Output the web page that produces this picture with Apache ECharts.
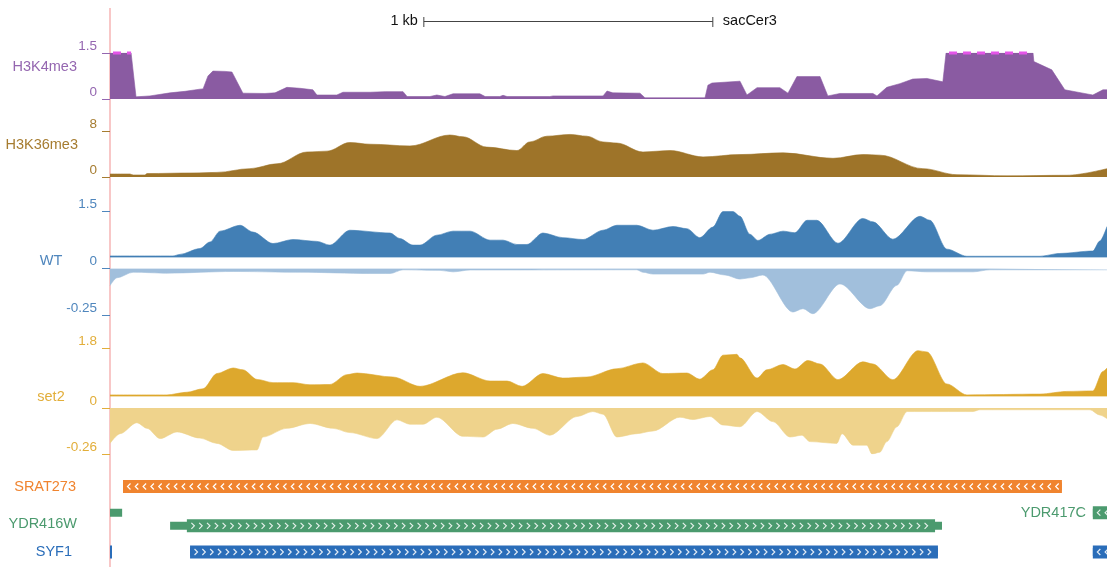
<!DOCTYPE html>
<html>
<head>
<meta charset="utf-8">
<script src="https://cdn.jsdelivr.net/npm/echarts@6/dist/echarts.min.js"></script>
<style>
  html, body { margin: 0; padding: 0; background: #fff; }
  #main { width: 1107px; height: 567px; }
</style>
</head>
<body>
<div id="main"></div>
<script>
// region length in bp (relative to left edge of the view)
const viewStart = 0
const viewEnd = 3450
const scaleBar = [1086, 2086] // 1 kb

// signal tracks: [position bp, value]
const h3k4me3 = [
  [0, 1.5], [73, 1.5], [90, 0.07], [93, 0.07], [138, 0.1], [208, 0.2], [260, 0.25], [311, 0.32],
  [322, 0.33], [339, 0.75], [356, 0.91], [398, 0.9], [422, 0.88], [443, 0.5], [460, 0.19],
  [536, 0.18], [571, 0.2], [612, 0.38], [657, 0.35], [702, 0.3], [716, 0.13], [785, 0.13],
  [806, 0.22], [900, 0.22], [952, 0.24], [1014, 0.24], [1028, 0.08], [1107, 0.08], [1131, 0.13],
  [1159, 0.08], [1187, 0.17], [1280, 0.17], [1298, 0.08], [1349, 0.08], [1360, 0.12], [1374, 0.08],
  [1522, 0.08], [1533, 0.1], [1706, 0.1], [1720, 0.26], [1740, 0.2], [1834, 0.19], [1851, 0.04],
  [2059, 0.04], [2069, 0.45], [2083, 0.52], [2180, 0.58], [2204, 0.13], [2239, 0.37], [2318, 0.37],
  [2346, 0.19], [2377, 0.73], [2457, 0.73], [2484, 0.1], [2526, 0.18], [2640, 0.18], [2654, 0.1],
  [2688, 0.38], [2733, 0.5], [2778, 0.65], [2827, 0.67], [2882, 0.56], [2893, 1.5], [3194, 1.5],
  [3197, 1.22], [3259, 0.95], [3304, 0.3], [3367, 0.19], [3401, 0.13], [3436, 0.3], [3450, 0.3]
]
// stretches where H3K4me3 is above the view limit
const h3k4me3Clipped = [[0, 1.5], [73, 1.5], null, [2893, 1.5], [3194, 1.5]]

const h3k36me3 = [
  [0, 0.52], [69, 0.52], [80, 0.35], [121, 0.35], [128, 0.6], [287, 0.7], [370, 0.8], [484, 1.45],
  [578, 2.3], [682, 4.35], [751, 4.5], [830, 6.0], [900, 5.7], [1038, 5.4], [1176, 7.3], [1221, 7.0],
  [1304, 5.2], [1408, 4.6], [1453, 6.1], [1512, 7.1], [1592, 7.4], [1650, 7.1], [1706, 6.1],
  [1754, 5.9], [1844, 4.35], [1938, 4.6], [2052, 3.5], [2180, 3.9], [2329, 4.2], [2502, 3.25],
  [2605, 3.9], [2664, 3.8], [2813, 1.45], [2931, 0.4], [3104, 0.2], [3311, 0.3], [3450, 1.45]
]

const wtPos = [
  [0, 0.05], [218, 0.05], [242, 0.1], [311, 0.29], [346, 0.5], [381, 0.85], [450, 1.04], [495, 0.82],
  [564, 0.45], [633, 0.58], [716, 0.52], [761, 0.4], [830, 0.88], [969, 0.79], [1003, 0.61],
  [1048, 0.4], [1073, 0.4], [1131, 0.72], [1187, 0.85], [1246, 0.85], [1315, 0.56], [1360, 0.56],
  [1408, 0.42], [1443, 0.42], [1498, 0.79], [1567, 0.64], [1637, 0.58], [1706, 0.88], [1754, 1.04],
  [1823, 1.04], [1879, 0.88], [1948, 1.0], [1996, 0.93], [2041, 0.64], [2086, 0.98], [2121, 1.48],
  [2156, 1.48], [2180, 1.33], [2214, 0.75], [2242, 0.55], [2284, 0.75], [2329, 0.85], [2370, 0.8],
  [2412, 1.2], [2446, 1.2], [2519, 0.46], [2605, 1.26], [2640, 1.15], [2709, 0.59], [2803, 1.33],
  [2837, 1.2], [2896, 0.27], [2965, 0.04], [3218, 0.04], [3287, 0.13], [3401, 0.21], [3425, 0.53],
  [3450, 1.0]
]
const wtNeg = [
  [0, -0.092], [24, -0.05], [80, -0.02], [197, -0.025], [426, -0.016], [657, -0.02], [900, -0.027],
  [969, -0.027], [1014, -0.007], [1142, -0.01], [1187, -0.018], [1246, -0.008], [1823, -0.007],
  [1844, -0.02], [1879, -0.03], [2052, -0.03], [2076, -0.02], [2128, -0.035], [2180, -0.057],
  [2214, -0.05], [2259, -0.035], [2363, -0.234], [2398, -0.216], [2432, -0.243], [2526, -0.083],
  [2630, -0.216], [2664, -0.2], [2723, -0.09], [2758, -0.012], [2827, -0.018], [2986, -0.018],
  [3045, -0.007], [3450, -0.007]
]

const set2Pos = [
  [0, 0.06], [197, 0.06], [266, 0.16], [322, 0.29], [370, 0.86], [426, 1.07], [460, 1.0], [509, 0.64],
  [564, 0.52], [633, 0.52], [692, 0.44], [761, 0.45], [820, 0.82], [855, 0.88], [979, 0.73],
  [1073, 0.38], [1221, 0.89], [1315, 0.58], [1374, 0.58], [1426, 0.38], [1498, 0.86], [1567, 0.69],
  [1650, 0.73], [1754, 1.04], [1844, 1.26], [1913, 0.86], [1996, 0.88], [2041, 0.65], [2086, 1.0],
  [2121, 1.55], [2169, 1.58], [2180, 1.45], [2239, 0.69], [2273, 1.0], [2329, 1.2], [2370, 1.03],
  [2415, 1.35], [2457, 1.22], [2519, 0.63], [2605, 1.3], [2640, 1.22], [2709, 0.63], [2796, 1.72],
  [2827, 1.67], [2896, 0.47], [2965, 0.06], [3218, 0.09], [3311, 0.19], [3401, 0.21], [3436, 0.94],
  [3450, 1.07]
]
const set2Neg = [
  [0, -0.2], [35, -0.145], [93, -0.083], [128, -0.115], [173, -0.173], [232, -0.135], [311, -0.17],
  [370, -0.2], [426, -0.24], [509, -0.237], [529, -0.164], [612, -0.115], [692, -0.087], [772, -0.115],
  [830, -0.139], [924, -0.173], [993, -0.067], [1038, -0.092], [1083, -0.092], [1131, -0.052],
  [1221, -0.16], [1291, -0.164], [1339, -0.12], [1394, -0.087], [1464, -0.115], [1522, -0.154],
  [1616, -0.048], [1671, -0.02], [1706, -0.035], [1754, -0.164], [1823, -0.145], [1879, -0.13],
  [1972, -0.052], [2017, -0.065], [2076, -0.048], [2121, -0.096], [2180, -0.106], [2239, -0.02],
  [2294, -0.077], [2353, -0.164], [2394, -0.154], [2422, -0.19], [2515, -0.2], [2533, -0.145],
  [2571, -0.21], [2619, -0.21], [2637, -0.26], [2664, -0.25], [2688, -0.19], [2723, -0.106],
  [2758, -0.02], [2986, -0.02], [3010, -0.01], [3391, -0.01], [3425, -0.04], [3450, -0.06]
]

// gene models: [txStart, txEnd, lane, cdsStart, cdsEnd]
const geneModels = [
  [45, 3294, 1, 45, 3294],
  [0, 42, 2, 42, 42],
  [208, 2879, 2.5, 266, 2855],
  [3401, 3600, 2, 3401, 3600],
  [0, 4, 3.5, 0, 4],
  [277, 2865, 3.5, 277, 2865],
  [3401, 3600, 3.5, 3401, 3600]
]
const geneStrand = ['-', '', '+', '-', '', '+', '-']
const geneColor = ['#F0842F', '#4B9A6E', '#4B9A6E', '#4B9A6E', '#2A6DB9', '#2A6DB9', '#2A6DB9']

const trackNames = ['H3K4me3', 'H3K36me3', 'WT', 'set2']
const geneNames = ['SRAT273', 'YDR416W', 'SYF1', 'YDR417C']

const FONT = '"Liberation Sans", Arial, sans-serif'

const chart = echarts.init(document.getElementById('main'), null, { renderer: 'canvas' })

const grids = [
  { top: 53, height: 46 },
  { top: 131, height: 46 },
  { top: 211, height: 46.5 },
  { top: 268.5, height: 46.5 },
  { top: 348.5, height: 48 },
  { top: 408, height: 46 },
  { top: 473.4, height: 91.7 }
].map(g => Object.assign({ left: 110, right: 0 }, g))

function yAx(i, min, max, color, ticks) {
  return {
    type: 'value', gridIndex: i, min: min, max: max, position: 'left', offset: 2,
    splitLine: { show: false },
    axisLine: { show: false },
    axisTick: { show: true, length: 8, customValues: ticks, lineStyle: { color: color, width: 1 } },
    axisLabel: {
      show: true, customValues: ticks, color: color, fontFamily: FONT, fontSize: 13.5,
      margin: 11, verticalAlign: 'bottom', showMinLabel: true, showMaxLabel: true
    }
  }
}

function areaSeries(i, data, color, smooth) {
  return {
    type: 'line', xAxisIndex: i, yAxisIndex: i, data: data,
    showSymbol: false, symbol: 'none', silent: true, clip: true,
    smooth: smooth || false, smoothMonotone: 'x',
    lineStyle: { color: color, width: 0.6 },
    areaStyle: { color: color, opacity: 1 }
  }
}

function renderGene(params, api) {
  const i = params.dataIndex
  const y = api.coord([0, api.value(2)])[1]
  const x0 = api.coord([api.value(0), 0])[0]
  const x1 = api.coord([api.value(1), 0])[0]
  const c0 = api.coord([api.value(3), 0])[0]
  const c1 = api.coord([api.value(4), 0])[0]
  const color = geneColor[i]
  const children = []
  if (x1 - x0 > 0) {
    children.push({ type: 'rect', shape: { x: x0, y: y - 4, width: x1 - x0, height: 8 }, style: { fill: color } })
  }
  if (c1 - c0 > 0) {
    children.push({ type: 'rect', shape: { x: c0, y: y - 6.5, width: Math.max(c1 - c0, 2), height: 13 }, style: { fill: color } })
  }
  const strand = geneStrand[i]
  if (strand && c1 - c0 > 10) {
    const dir = strand === '+' ? 1 : -1
    for (let x = c0 + 6; x < c1 - 4; x += 7.8) {
      children.push({
        type: 'polyline',
        shape: { points: [[x - 1.5 * dir, y - 3], [x + 1.5 * dir, y], [x - 1.5 * dir, y + 3]] },
        style: { stroke: i === 0 ? '#fff' : 'rgba(255,255,255,0.85)', lineWidth: 1.2, fill: null }
      })
    }
  }
  return { type: 'group', children: children }
}

const purple = '#8A5BA2'
const brown = '#9E7429'
const blue = '#427FB5'
const lightBlue = '#A1BFDC'
const gold = '#DDA82D'
const lightGold = '#EFD38C'

const option = {
  animation: false,
  backgroundColor: '#fff',
  grid: grids,
  xAxis: grids.map((g, i) => ({ type: 'value', gridIndex: i, min: viewStart, max: viewEnd, show: false })),
  yAxis: [
    yAx(0, 0, 1.5, '#9466B0', [0, 1.5]),
    yAx(1, 0, 8, '#A67C30', [0, 8]),
    yAx(2, 0, 1.5, '#4F86BD', [1.5]),
    yAx(3, -0.25, 0, '#4F86BD', [0, -0.25]),
    yAx(4, 0, 1.8, '#E2AE3A', [1.8]),
    yAx(5, -0.26, 0, '#E2AE3A', [0, -0.26]),
    { type: 'value', gridIndex: 6, min: 0.5, max: 4, inverse: true, show: false }
  ],
  series: [
    areaSeries(0, h3k4me3, purple),
    {
      type: 'line', xAxisIndex: 0, yAxisIndex: 0, data: h3k4me3Clipped, showSymbol: false,
      symbol: 'none', silent: true, clip: false, connectNulls: false,
      lineStyle: { color: '#E455E8', width: 3, type: [8, 6], dashOffset: -3 }
    },
    areaSeries(1, h3k36me3, brown, 0.35),
    areaSeries(2, wtPos, blue, 0.3),
    areaSeries(3, wtNeg, lightBlue, 0.3),
    areaSeries(4, set2Pos, gold, 0.3),
    areaSeries(5, set2Neg, lightGold, 0.3),
    {
      type: 'custom', xAxisIndex: 6, yAxisIndex: 6, data: geneModels, clip: true, silent: true,
      encode: { x: [0, 1, 3, 4], y: 2 },
      renderItem: renderGene
    }
  ]
}
chart.setOption(option)

// labels, scale bar and the left guide line placed from the axes
const left = chart.convertToPixel({ xAxisIndex: 0 }, viewStart)
const sb0 = chart.convertToPixel({ xAxisIndex: 0 }, scaleBar[0])
const sb1 = chart.convertToPixel({ xAxisIndex: 0 }, scaleBar[1])
const laneY = v => chart.convertToPixel({ yAxisIndex: 6 }, v)

function label(text, x, y, color, align) {
  return {
    type: 'text', x: x, y: y, silent: true,
    style: { text: text, fill: color, font: '14.5px ' + FONT, align: align || 'right', verticalAlign: 'middle' }
  }
}

chart.setOption({
  graphic: [
    { type: 'line', silent: true, shape: { x1: left, y1: 8, x2: left, y2: 567 }, style: { stroke: '#F6B4B4', lineWidth: 1.5 } },
    { type: 'line', silent: true, shape: { x1: sb0, y1: 21.5, x2: sb1, y2: 21.5 }, style: { stroke: '#444', lineWidth: 1 } },
    { type: 'line', silent: true, shape: { x1: sb0, y1: 17, x2: sb0, y2: 27 }, style: { stroke: '#444', lineWidth: 1 } },
    { type: 'line', silent: true, shape: { x1: sb1, y1: 17, x2: sb1, y2: 27 }, style: { stroke: '#444', lineWidth: 1 } },
    label('1 kb', sb0 - 6, 21, '#111'),
    label('sacCer3', sb1 + 10, 21, '#111', 'left'),
    label(trackNames[0], 77, 67, '#9466B0'),
    label(trackNames[1], 78, 145, '#A67C30'),
    label(trackNames[2], 51, 261, '#4F86BD', 'center'),
    label(trackNames[3], 51, 397, '#E2AE3A', 'center'),
    label(geneNames[0], 76, laneY(1), '#F0842F'),
    label(geneNames[1], 77, laneY(2.5) - 2, '#4B9A6E'),
    label(geneNames[2], 72, laneY(3.5), '#2A6DB9'),
    label(geneNames[3], 1086, laneY(2), '#4B9A6E')
  ]
})
</script>
</body>
</html>
